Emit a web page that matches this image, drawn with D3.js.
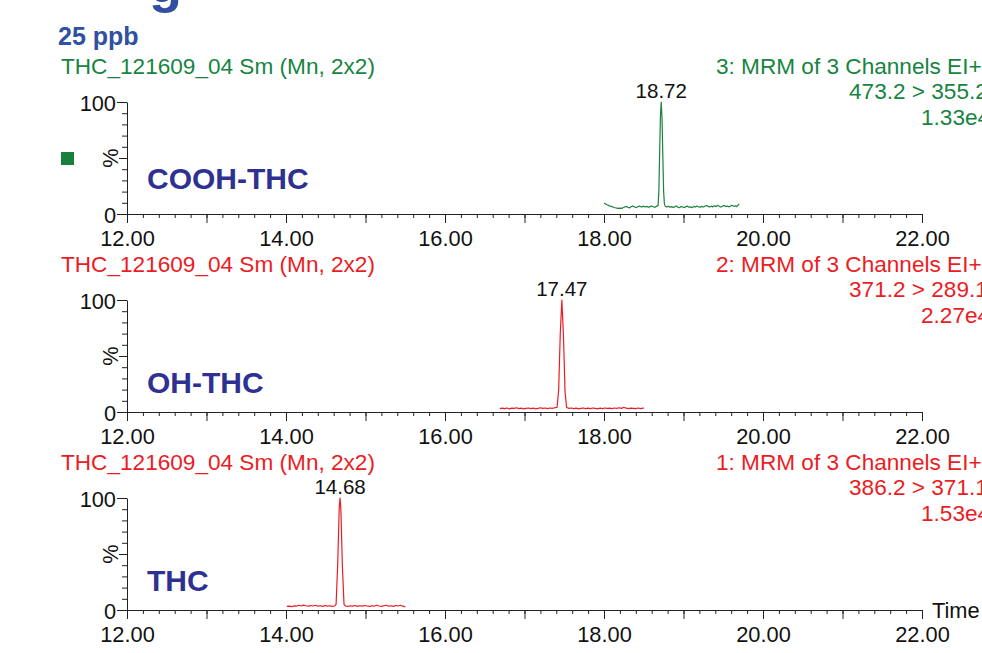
<!DOCTYPE html>
<html>
<head>
<meta charset="utf-8">
<script src="https://cdn.jsdelivr.net/npm/d3@7"></script>
<style>
  html, body { margin: 0; padding: 0; background: #fff; }
  svg { display: block; font-family: "Liberation Sans", Arial, sans-serif; }
</style>
</head>
<body>
<svg id="chart" width="982" height="653"></svg>
<script>
// ---------- data ----------
const sampleLabel = "25 ppb";
const compounds = ["COOH-THC", "OH-THC", "THC"];
const headerLeft = ["THC_121609_04 Sm (Mn, 2x2)", "THC_121609_04 Sm (Mn, 2x2)", "THC_121609_04 Sm (Mn, 2x2)"];
const channelLines = ["3: MRM of 3 Channels EI+", "2: MRM of 3 Channels EI+", "1: MRM of 3 Channels EI+"];
const transitions = ["473.2 > 355.2", "371.2 > 289.1", "386.2 > 371.1"];
const intensities = ["1.33e4", "2.27e4", "1.53e4"];
const peakTimes = [18.72, 17.47, 14.68];
const xTickLabels = [12, 14, 16, 18, 20, 22];
const yTickLabels = [0, 100];

// trace points: [retention time (min), relative intensity (%)]
const coohTrace = [
  [18.00,9.8],[18.02,9.0],[18.04,8.2],[18.06,7.5],[18.08,7.0],[18.10,6.6],[18.12,6.0],[18.14,5.6],[18.16,5.3],[18.18,5.0],
  [18.20,5.2],[18.22,5.0],[18.24,5.6],[18.26,6.2],[18.28,6.8],[18.30,6.0],[18.32,5.4],[18.34,6.4],[18.36,7.2],[18.38,6.5],
  [18.40,5.8],[18.42,6.2],[18.44,7.0],[18.46,6.6],[18.48,6.4],[18.50,7.0],[18.52,6.2],[18.54,6.8],[18.56,6.0],[18.58,6.6],
  [18.60,7.2],[18.62,6.4],[18.64,6.0],[18.66,6.8],[18.68,7.5],[18.69,20],[18.70,55],[18.71,88],[18.72,100],[18.73,85],
  [18.74,52],[18.75,20],[18.76,9],[18.77,7.0],[18.79,6.2],[18.81,7.0],[18.83,6.0],[18.85,6.6],[18.87,5.8],[18.89,6.4],
  [18.91,7.2],[18.93,6.0],[18.95,5.6],[18.97,6.8],[18.99,6.2],[19.01,5.8],[19.03,6.6],[19.05,7.0],[19.07,6.0],[19.09,6.4],
  [19.11,5.6],[19.13,6.8],[19.15,6.2],[19.17,7.2],[19.19,6.4],[19.21,6.0],[19.23,6.8],[19.25,6.2],[19.27,7.0],[19.29,7.6],
  [19.31,6.8],[19.33,6.2],[19.35,7.0],[19.37,6.4],[19.39,7.4],[19.41,6.6],[19.43,7.8],[19.45,6.8],[19.47,6.2],[19.49,7.0],
  [19.51,7.6],[19.53,6.6],[19.55,7.2],[19.57,6.4],[19.59,7.0],[19.61,7.8],[19.63,6.8],[19.65,7.4],[19.67,6.6],[19.69,8.2],[19.70,9.0]
];
const ohTrace = [
  [16.69,3.0],[16.72,3.4],[16.75,3.0],[16.78,3.6],[16.81,2.8],[16.84,3.4],[16.87,3.2],[16.90,3.8],[16.93,3.0],[16.96,3.4],
  [16.99,2.8],[17.02,3.2],[17.05,3.6],[17.08,3.0],[17.11,3.4],[17.14,2.8],[17.17,3.2],[17.20,3.8],[17.23,3.2],[17.26,3.6],
  [17.29,3.0],[17.32,3.6],[17.35,3.2],[17.38,3.8],[17.41,4.2],[17.43,20],[17.45,70],[17.47,100],[17.49,68],[17.51,18],
  [17.53,4.0],[17.56,3.2],[17.59,3.6],[17.62,3.0],[17.65,3.4],[17.68,2.8],[17.71,3.2],[17.74,3.6],[17.77,3.0],[17.80,3.4],
  [17.83,3.0],[17.86,3.6],[17.89,3.2],[17.92,2.8],[17.95,3.4],[17.98,3.0],[18.01,3.6],[18.04,3.2],[18.07,3.4],[18.10,3.0],
  [18.13,3.6],[18.16,3.2],[18.19,3.8],[18.22,3.2],[18.25,4.2],[18.28,3.4],[18.31,3.0],[18.34,3.4],[18.37,3.2],[18.40,3.0],
  [18.43,3.6],[18.46,3.0],[18.49,3.4],[18.50,3.8]
];
const thcTrace = [
  [14.01,3.2],[14.04,3.4],[14.07,3.0],[14.10,3.6],[14.13,3.4],[14.16,4.2],[14.19,3.6],[14.22,4.4],[14.25,3.8],[14.28,3.4],
  [14.31,4.0],[14.34,3.6],[14.37,4.2],[14.40,3.4],[14.43,3.8],[14.46,3.2],[14.49,4.0],[14.52,3.4],[14.55,3.8],[14.58,3.2],
  [14.61,3.6],[14.63,5],[14.65,40],[14.67,92],[14.68,100],[14.69,90],[14.71,38],[14.73,5],[14.75,3.6],[14.78,3.2],
  [14.81,3.8],[14.84,3.4],[14.87,4.0],[14.90,3.2],[14.93,3.8],[14.96,3.4],[14.99,4.0],[15.02,3.6],[15.05,3.2],[15.08,3.8],
  [15.11,3.4],[15.14,4.2],[15.17,3.6],[15.20,3.2],[15.23,3.8],[15.26,4.2],[15.29,3.4],[15.32,3.8],[15.35,3.2],[15.38,4.0],
  [15.41,3.6],[15.44,4.2],[15.47,3.4],[15.50,2.8]
];
const traces = [coohTrace, ohTrace, thcTrace];

// ---------- styles ----------
const traceColors = ["#1f8040", "#ec1c24", "#ec1c24"];
const headerColors = ["#17843f", "#ec1c24", "#ec1c24"];
const labelBlue = "#2e3192";
const titleBlue = "#3050a2";
const axisColor = "#222";
const hdrSize = 22.6;

const svg = d3.select("#chart");
svg.append("rect").attr("width", 982).attr("height", 653).attr("fill", "#fff");

// clipped title fragment at the top
svg.append("text").attr("x", 149).attr("y", 2)
  .attr("font-size", 54).attr("font-weight", "bold").attr("fill", titleBlue).text("g");

svg.append("text").attr("x", 58).attr("y", 45)
  .attr("font-size", 25).attr("font-weight", "bold").attr("fill", titleBlue).text(sampleLabel);

const x = d3.scaleLinear().domain([12, 22]).range([127, 922]);
const panelAxisY = [214, 412, 610];
const plotH = 112;
const fmt = d3.format(".2f");

compounds.forEach((name, i) => {
  const y0 = panelAxisY[i];
  const y = d3.scaleLinear().domain([0, 100]).range([y0, y0 - plotH]);
  const g = svg.append("g");
  const hdrY = y0 - 140;

  // headers
  g.append("text").attr("x", 61).attr("y", hdrY).attr("font-size", hdrSize)
    .attr("fill", headerColors[i]).text(headerLeft[i]);
  g.append("text").attr("x", 716).attr("y", hdrY).attr("font-size", hdrSize)
    .attr("fill", headerColors[i]).text(channelLines[i]);
  g.append("text").attr("x", 849).attr("y", hdrY + 25).attr("font-size", hdrSize)
    .attr("fill", headerColors[i]).text(transitions[i]);
  g.append("text").attr("x", 921).attr("y", hdrY + 51).attr("font-size", hdrSize)
    .attr("fill", headerColors[i]).text(intensities[i]);

  // x axis: minor ticks every 0.2
  const minorVals = d3.range(12, 22.001, 0.2).map(v => +v.toFixed(2));
  g.append("g").attr("transform", `translate(0,${y0})`)
    .call(d3.axisBottom(x).tickValues(minorVals).tickSize(4).tickSizeOuter(0).tickFormat(""))
    .call(a => a.selectAll("line,path").attr("stroke", axisColor));
  // major ticks every 1.0, labels every 2.0
  const majorVals = d3.range(12, 22.001, 1);
  g.append("g").attr("transform", `translate(0,${y0})`)
    .call(d3.axisBottom(x).tickValues(majorVals).tickSize(9).tickSizeOuter(0).tickPadding(8)
      .tickFormat(v => xTickLabels.includes(v) ? fmt(v) : ""))
    .call(a => a.select(".domain").remove())
    .call(a => a.selectAll("line").attr("stroke", axisColor))
    .call(a => a.selectAll("text").attr("font-size", 21.8).attr("fill", "#111")
      .attr("font-family", "Liberation Sans, Arial, sans-serif"));

  // y axis
  const minorY = [10, 20, 30, 40, 60, 70, 80, 90];
  g.append("g").attr("transform", "translate(127,0)")
    .call(d3.axisLeft(y).tickValues(minorY).tickSize(5).tickSizeOuter(0).tickFormat(""))
    .call(a => a.selectAll("line,path").attr("stroke", axisColor));
  g.append("g").attr("transform", "translate(127,0)")
    .call(d3.axisLeft(y).tickValues([50]).tickSize(8).tickFormat(""))
    .call(a => a.select(".domain").remove())
    .call(a => a.selectAll("line").attr("stroke", axisColor));
  g.append("g").attr("transform", "translate(127,0)")
    .call(d3.axisLeft(y).tickValues(yTickLabels).tickSize(10).tickPadding(1).tickFormat(d3.format("d")))
    .call(a => a.select(".domain").remove())
    .call(a => a.selectAll("line").attr("stroke", axisColor))
    .call(a => a.selectAll("text").attr("font-size", 21.8).attr("fill", "#111").attr("dy", "0.4em")
      .attr("font-family", "Liberation Sans, Arial, sans-serif"));

  // % label
  g.append("text").attr("transform", `translate(118,${y(50)}) rotate(-90)`)
    .attr("text-anchor", "middle").attr("font-size", 21.8).attr("fill", "#111").text("%");

  // compound label
  g.append("text").attr("x", 147).attr("y", i === 0 ? y0 - 25 : y0 - 19)
    .attr("font-size", 30).attr("font-weight", "bold").attr("fill", labelBlue).text(name);

  // trace
  const line = d3.line().x(d => x(d[0])).y(d => y(d[1]));
  g.append("path").datum(traces[i]).attr("d", line)
    .attr("fill", "none").attr("stroke", traceColors[i]).attr("stroke-width", 1.2)
    .attr("stroke-linejoin", "round");

  // peak label
  g.append("text").attr("x", x(peakTimes[i])).attr("y", y(100) - 4)
    .attr("text-anchor", "middle").attr("font-size", 20.5).attr("fill", "#111").text(fmt(peakTimes[i]));
});

// legend marker square
svg.append("rect").attr("x", 61).attr("y", 152).attr("width", 13).attr("height", 13).attr("fill", "#16803c");

// Time label
svg.append("text").attr("x", 932).attr("y", 618).attr("font-size", 21.8).attr("fill", "#111").text("Time");
</script>
</body>
</html>
